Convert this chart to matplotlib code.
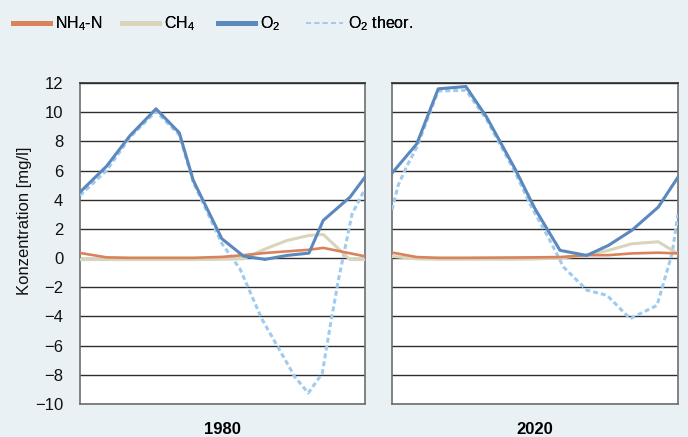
import matplotlib
matplotlib.use("Agg")
import matplotlib.pyplot as plt
from matplotlib.lines import Line2D

plt.rcParams['font.family'] = ['Liberation Sans', 'DejaVu Sans']
plt.rcParams['mathtext.fontset'] = 'custom'
plt.rcParams['mathtext.rm'] = 'Liberation Sans'
plt.rcParams['mathtext.it'] = 'Liberation Sans'

# x position within the year (months, 0..12)
x_1980 = [0, 1.12, 2.11, 3.2, 4.18, 4.77, 5.97, 6.88, 7.79, 8.70, 9.64, 10.24, 11.37, 12]
o2_1980 = [4.52, 6.30, 8.40, 10.23, 8.59, 5.32, 1.33, 0.14, -0.09, 0.18, 0.34, 2.58, 4.18, 5.55]
nh4_1980 = [0.35, 0.05, 0.02, 0.02, 0.02, 0.02, 0.08, 0.2, 0.35, 0.46, 0.57, 0.7, 0.33, 0.12]
ch4_1980 = [-0.1, -0.1, -0.1, -0.1, -0.1, -0.1, -0.08, -0.05, 0.62, 1.2, 1.55, 1.62, -0.1, -0.1]
xt_1980 = [0, 1.12, 2.11, 3.2, 4.18, 4.77, 5.97, 6.74, 7.65, 9.05, 9.61, 10.2, 10.53, 10.88, 11.2, 11.45, 12]
o2t_1980 = [4.3, 6.0, 8.3, 10.05, 8.45, 5.2, 1.0, -0.75, -4.15, -8.15, -9.25, -7.9, -4.7, -1.5, 1.0, 3.0, 4.75]

x_2020 = [0, 1.04, 1.94, 3.10, 3.97, 5.16, 6.0, 7.05, 8.17, 9.08, 10.06, 11.17, 12]
o2_2020 = [5.82, 7.83, 11.6, 11.76, 9.66, 6.12, 3.38, 0.53, 0.18, 0.87, 1.9, 3.49, 5.55]
nh4_2020 = [0.38, 0.07, 0.02, 0.02, 0.03, 0.04, 0.05, 0.07, 0.2, 0.2, 0.32, 0.37, 0.32]
ch4_2020 = [0.12, -0.05, -0.08, -0.08, -0.08, -0.08, -0.06, 0.0, 0.22, 0.53, 0.98, 1.12, 0.3]
xt_2020 = [0, 0.26, 0.62, 1.04, 1.94, 3.1, 3.97, 5.16, 5.79, 6.63, 7.19, 8.18, 9.02, 9.99, 11.12, 11.75, 12]
o2t_2020 = [3.3, 5.0, 6.3, 7.6, 11.45, 11.5, 9.5, 5.9, 3.7, 1.2, -0.6, -2.2, -2.55, -4.15, -3.24, 0.3, 3.0]

years = ['1980', '2020']
labels = ['NH$_4$-N', 'CH$_4$', 'O$_2$', 'O$_2$ theor.']
yticks = list(range(-10, 13, 2))

bg = '#e9f1f5'
c_nh4 = '#d9825b'
c_ch4 = '#d8d5bb'
c_o2 = '#5b88bd'
c_o2t = '#9fcbef'

fig = plt.figure(figsize=(6.88, 4.37), dpi=100, facecolor=bg)
ax1 = fig.add_axes([80/688, 1-404/437, 285/688, 321/437])
ax2 = fig.add_axes([392/688, 1-404/437, 286/688, 321/437])

panels = [
    (ax1, x_1980, o2_1980, nh4_1980, ch4_1980, xt_1980, o2t_1980),
    (ax2, x_2020, o2_2020, nh4_2020, ch4_2020, xt_2020, o2t_2020),
]

for i, (ax, x, o2, nh4, ch4, xt, o2t) in enumerate(panels):
    ax.set_facecolor('white')
    ax.plot(xt, o2t, color=c_o2t, lw=2.2, dashes=(1.6, 1.0), zorder=3)
    ax.plot(x, ch4, color=c_ch4, lw=2.2, zorder=4)
    ax.plot(x, nh4, color=c_nh4, lw=1.9, zorder=5)
    ax.plot(x, o2, color=c_o2, lw=2.2, zorder=6)
    ax.set_xlim(0, 12)
    ax.set_ylim(-10, 12)
    ax.set_yticks(yticks)
    ax.set_xticks([])
    ax.grid(axis='y', color='#2e2e2e', lw=1.0, zorder=1)
    ax.set_axisbelow(True)
    for s in ax.spines.values():
        s.set_color('#6e6e6e')
        s.set_linewidth(1.2)
    ax.spines['top'].set_color('#2e2e2e')
    ax.tick_params(axis='y', length=0, pad=12, labelsize=12, colors='#111111')
    if i == 1:
        ax.tick_params(axis='y', labelleft=False)
    ax.set_xlabel(years[i], fontsize=12, fontweight='bold', labelpad=13)

fig.text(25/688, 1-221/437, 'Konzentration [mg/l]', rotation=90,
         ha='center', va='center', fontsize=12, color='#111111')

# legend: one entry per legend so each handle sits where it does in the original
handles = [
    Line2D([], [], color=c_nh4, lw=3.6),
    Line2D([], [], color=c_ch4, lw=3.6),
    Line2D([], [], color=c_o2, lw=3.6),
    Line2D([], [], color=c_o2t, lw=1.2, dashes=(3, 2)),
]
starts = [13, 122, 218, 306]
for h, lab, x0 in zip(handles, labels, starts):
    leg = fig.legend([h], [lab], loc='center left', bbox_to_anchor=(x0/688, 1-24/437),
                     frameon=False, fontsize=11.5, handlelength=2.3,
                     handletextpad=0.3, borderpad=0, borderaxespad=0)
    fig.add_artist(leg)

fig.savefig('out.png', dpi=100, facecolor=bg)
